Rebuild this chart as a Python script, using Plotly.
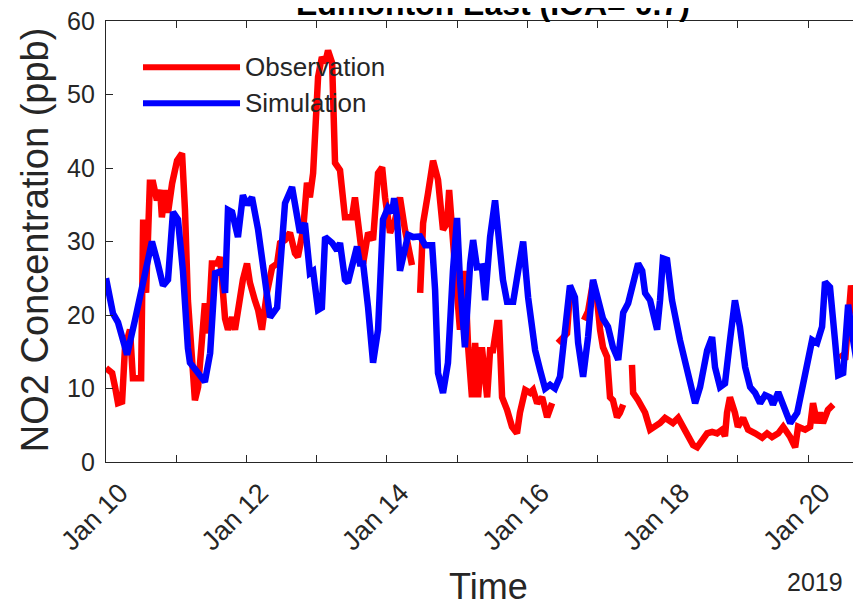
import pandas as pd
import plotly.graph_objects as go

# ---- data (hours after 2019-01-10 00:00, NO2 ppb) ----
obs_points = [
    (0, 12.8), (2.1, 12.1), (3.1, 10.2), (4.1, 8), (5.5, 8.2), (6.5, 15.6), (8.2, 18), (9.2, 11.4),
    (12.0, 11.4), (12.7, 33), (13.7, 23), (15.0, 38), (16.1, 38), (17.4, 35.6), (18.5, 37), (19.1, 33.3),
    (20.2, 37), (21.2, 33.9), (22.6, 37.9), (24.3, 41), (26.0, 42), (27.0, 34.3), (28.0, 22), (29.4, 12.9),
    (30.4, 8.4), (31.5, 10.2), (32.8, 17.5), (33.8, 21.6), (34.9, 17.5), (36.2, 27), (38.0, 27), (39.0, 27.9),
    (40.0, 23), (40.7, 19.5), (41.7, 18), (43.1, 19.7), (44.1, 18), (45.8, 23), (46.8, 24.8), (48.2, 27),
    (49.2, 24.4), (50.9, 22), (52.0, 20.7), (53.3, 18), (55.0, 23), (56.8, 26.5), (58.5, 27), (59.5, 29.8),
    (61.2, 30.2), (62.9, 31.2), (64.6, 28.4), (65.6, 27.9), (67.4, 31.6), (68.7, 38), (69.7, 36), (70.8, 39.3),
    (71.5, 45.2), (72.5, 52.4), (73.8, 55.1), (74.9, 54.3), (75.9, 56), (77.3, 54.3), (78.3, 40.7), (80.0, 39.7),
    (81.7, 33.3), (84.1, 33.3), (85.1, 36), (86.2, 31.6), (87.9, 27), (89.6, 31.2), (91.3, 30.2), (93.0, 39.3),
    (94.4, 40.1), (95.4, 36), (97.1, 31.2), (98.8, 32.9), (100.5, 36), (102.2, 31.6), (104.6, 26.8), (106.0, None),
    (107.4, 23), (108.4, 32.5), (110.1, 36.6), (111.8, 41), (113.5, 38.4), (115.2, 31.6), (116.6, 32.5), (117.3, 37),
    (118.6, 30.2), (120.0, 21), (121.0, 18), (122.7, 26), (123.8, 15.6), (125.1, 8.8), (126.2, 16.2), (127.2, 8.8),
    (128.5, 15.6), (130.3, 8.8), (131.3, 15.2), (132.3, 15.2), (133.7, 18.9), (134.4, 18.9), (135.4, 8.8), (137.1, 7.1),
    (138.8, 4.8), (140.5, 3.9), (141.5, 6.7), (143.3, 9.8), (145.0, 9.4), (146.0, 9.8), (147.4, 8), (149.1, 8.8),
    (150.8, 6.1), (152.5, 8), (153.5, None), (154.5, 16.2), (156.2, 16.8), (157.6, 17.5), (158.6, 23), (160.3, 22),
    (161.5, None), (163.4, 19.3), (164.8, 20.5), (166.5, 24.5), (167.9, 22), (168.9, 18), (169.9, 15.6), (171.3, 14.3),
    (172.3, 8.8), (173.3, 8.4), (174.7, 6.1), (175.7, 6.7), (176.8, 7.8), (178.0, None), (179.8, 13.2), (180.2, 9.4),
    (181.9, 8.4), (183.3, 7.5), (184.3, 6.7), (186.0, 4.4), (187.7, 4.8), (189.4, 5.3), (191.1, 6), (192.8, 5.7),
    (193.8, 5.3), (195.6, 6), (197.3, 4.8), (199.0, 3.4), (200.7, 2.3), (202.1, 2.0), (203.8, 3), (205.5, 3.9),
    (207.2, 4.1), (208.9, 3.9), (210.6, 4.4), (211.6, 3.5), (212.3, 6.7), (213.3, 8.8), (215.0, 6.7), (216.0, 4.8),
    (217.8, 6), (219.5, 4.4), (221.9, 3.9), (224.3, 3.3), (226.0, 3.9), (227.7, 3.4), (229.8, 3.9), (231.5, 4.8),
    (233.9, 3.4), (235.6, 2), (236.6, 4.8), (239.0, 4.4), (240.7, 4.8), (241.7, 8), (243.1, 5.3), (244.1, 6.7),
    (245.1, 5.3), (246.8, 7.1), (248.6, 7.8), (249.8, None), (251.0, 14.8), (252.7, 13.9), (254.7, 24), (256.1, 20.7),
    (257.1, 16.6), (258.5, 20.3),
]

sim_points = [
    (0, 25), (2.4, 20.2), (4.1, 19), (7.2, 14.6), (9.9, 19.3), (12.6, 24.8), (15.7, 30), (17.4, 27.5),
    (19.5, 24), (21.2, 24.8), (22.9, 34), (24.6, 33), (26.3, 26), (28.0, 15.5), (28.7, 13.5), (31.1, 12.3),
    (33.8, 10.9), (35.6, 14.8), (37.3, 25.7), (39.7, 26), (40.7, 23), (41.7, 34.3), (43.1, 34), (45.1, 30.6),
    (46.8, 36.3), (48.2, 35), (49.9, 36), (52.0, 31.6), (54.4, 23.8), (56.1, 19.7), (58.5, 21), (61.2, 35.2),
    (63.6, 37.4), (65.3, 33.3), (66.3, 31.2), (68.0, 32.5), (69.7, 25.7), (70.8, 26), (72.5, 20.7), (73.8, 21),
    (74.9, 30.6), (77.3, 29.8), (79.0, 28.8), (80.0, 29.8), (81.7, 24.8), (82.7, 24.4), (84.4, 27.5), (85.8, 29.3),
    (86.8, 27), (87.9, 27), (89.6, 21), (91.3, 13.5), (93.0, 18), (94.7, 33), (96.4, 34.6), (97.8, 33.9),
    (98.5, 35.9), (99.5, 33.3), (100.5, 26), (101.5, 27.9), (103.3, 30.9), (105.0, 30.6), (107.4, 30.7), (109.1, 29.5),
    (111.5, 29.5), (112.5, 23.4), (113.5, 12.1), (115.2, 9.4), (116.9, 13.5), (118.6, 26), (120.0, 33.2), (121.0, 24.8),
    (122.7, 15.6), (124.5, 27), (125.5, 30.2), (126.8, 26.5), (128.5, 26.6), (129.6, 22), (131.3, 30.6), (133.0, 35.6),
    (134.0, 31.6), (135.7, 24.8), (137.1, 21.8), (139.2, 21.8), (140.9, 26), (142.6, 30), (144.3, 22.4), (146.7, 15.2),
    (148.4, 12.5), (150.1, 10), (151.8, 10.5), (153.5, 10), (155.2, 11.6), (156.9, 18.4), (158.6, 24), (160.3, 22.4),
    (161.4, 16.2), (163.1, 11.6), (164.8, 17), (166.5, 24.8), (168.2, 22.4), (169.9, 19.5), (171.6, 18.4), (173.3, 15.6),
    (175.1, 13.9), (176.8, 20.3), (178.5, 21.6), (180.2, 24.4), (181.9, 27), (183.3, 26), (184.3, 23), (186.0, 22),
    (188.4, 18), (189.4, 22), (190.4, 27.7), (191.8, 27.5), (193.5, 22), (196.2, 16.6), (199.0, 12.1), (201.4, 8),
    (203.1, 10.2), (205.5, 15.2), (207.2, 17), (208.2, 12.9), (209.9, 10.2), (211.6, 10.7), (213.3, 16.5), (215.0, 22),
    (216.7, 18.4), (218.5, 12.9), (220.2, 10.2), (221.9, 9.4), (223.6, 8), (225.3, 9.1), (227.0, 8.8), (228.0, 7.8),
    (229.8, 9.5), (231.5, 7.5), (233.9, 5.3), (236.3, 6.7), (238.0, 10.2), (239.7, 13.9), (241.4, 16.6), (243.1, 16.2),
    (244.8, 18.4), (245.8, 24.5), (247.5, 23.8), (249.2, 16.6), (250.3, 11.8), (252.0, 12.1), (253.7, 21.4), (255.4, 16.6),
    (257.1, 12.5), (258.5, 12.5),
]

obs_hours = [p[0] for p in obs_points]
obs_values = [p[1] for p in obs_points]
sim_hours = [p[0] for p in sim_points]
sim_values = [p[1] for p in sim_points]

tick_days = pd.date_range("2019-01-10", "2019-01-20", freq="D")
tick_labels = ["Jan 10", "", "Jan 12", "", "Jan 14", "", "Jan 16", "", "Jan 18", "", "Jan 20"]
y_ticks = [0, 10, 20, 30, 40, 50, 60]

base = pd.Timestamp("2019-01-10")
obs_t = base + pd.to_timedelta(obs_hours, unit="h")
sim_t = base + pd.to_timedelta(sim_hours, unit="h")
x_end = base + pd.to_timedelta(258.1, unit="h")

FONT = "Liberation Sans, Arial, Helvetica, sans-serif"
AX = "#262626"
RED = "#FF0000"
BLUE = "#0000FF"

fig = go.Figure()
fig.add_trace(go.Scatter(x=obs_t, y=obs_values, mode="lines", name="Observation",
                         line=dict(color=RED, width=6.5), connectgaps=False, showlegend=False))
fig.add_trace(go.Scatter(x=sim_t, y=sim_values, mode="lines", name="Simulation",
                         line=dict(color=BLUE, width=6.5), connectgaps=False, showlegend=False))

fig.update_layout(
    width=861, height=606,
    margin=dict(l=98, r=8, t=13, b=152),
    paper_bgcolor="white", plot_bgcolor="white",
    font=dict(family=FONT, color=AX),
    xaxis=dict(type="date", range=[base, x_end], tickvals=tick_days, ticktext=tick_labels,
               tickangle=-45, ticks="inside", ticklen=7, tickcolor=AX, tickwidth=1.3,
               ticklabelshift=14, ticklabelstandoff=3, ticklabeloverflow="allow", automargin=False,
               showline=True, linecolor=AX, linewidth=1.3, mirror="allticks",
               showgrid=False, zeroline=False, tickfont=dict(size=27, family=FONT, color=AX)),
    yaxis=dict(range=[0, 60], tickvals=y_ticks, ticks="inside", ticklen=7, tickcolor=AX, tickwidth=1.3,
               ticklabelstandoff=5, ticklabeloverflow="allow", automargin=False,
               showline=True, linecolor=AX, linewidth=1.3, showgrid=False, zeroline=False,
               tickfont=dict(size=25, family=FONT, color=AX)),
)

# legend drawn manually (MATLAB style long line samples)
fig.add_shape(type="line", xref="paper", yref="paper", x0=0.049, x1=0.1775, y0=0.895, y1=0.895,
              line=dict(color=RED, width=6))
fig.add_shape(type="line", xref="paper", yref="paper", x0=0.049, x1=0.1775, y0=0.8135, y1=0.8135,
              line=dict(color=BLUE, width=6))
fig.add_annotation(text="Observation", xref="paper", yref="paper", x=0.182, y=0.895,
                   xanchor="left", yanchor="middle", showarrow=False, font=dict(size=26, color=AX))
fig.add_annotation(text="Simulation", xref="paper", yref="paper", x=0.182, y=0.8135,
                   xanchor="left", yanchor="middle", showarrow=False, font=dict(size=26, color=AX))

# title (partly cropped at top, as in the reference)
fig.add_annotation(text="<b>Edmonton East (IOA= 0.7)</b>", xref="paper", yref="paper", x=0.5126, y=1.038,
                   xanchor="center", yanchor="middle", showarrow=False, font=dict(size=32, color="#000000"))
# axis titles
fig.add_annotation(text="Time", xref="paper", yref="paper", x=0.506, y=-0.283,
                   xanchor="center", yanchor="middle", showarrow=False, font=dict(size=36, color=AX))
fig.add_annotation(text="2019", xref="paper", yref="paper", x=0.939, y=-0.272,
                   xanchor="center", yanchor="middle", showarrow=False, font=dict(size=25, color=AX))
fig.add_annotation(text="NO2 Concentration (ppb)", xref="paper", yref="paper", x=-0.094, y=0.503,
                   xanchor="center", yanchor="middle", textangle=-90, showarrow=False,
                   font=dict(size=38, color=AX))

fig.write_html("out.html")
